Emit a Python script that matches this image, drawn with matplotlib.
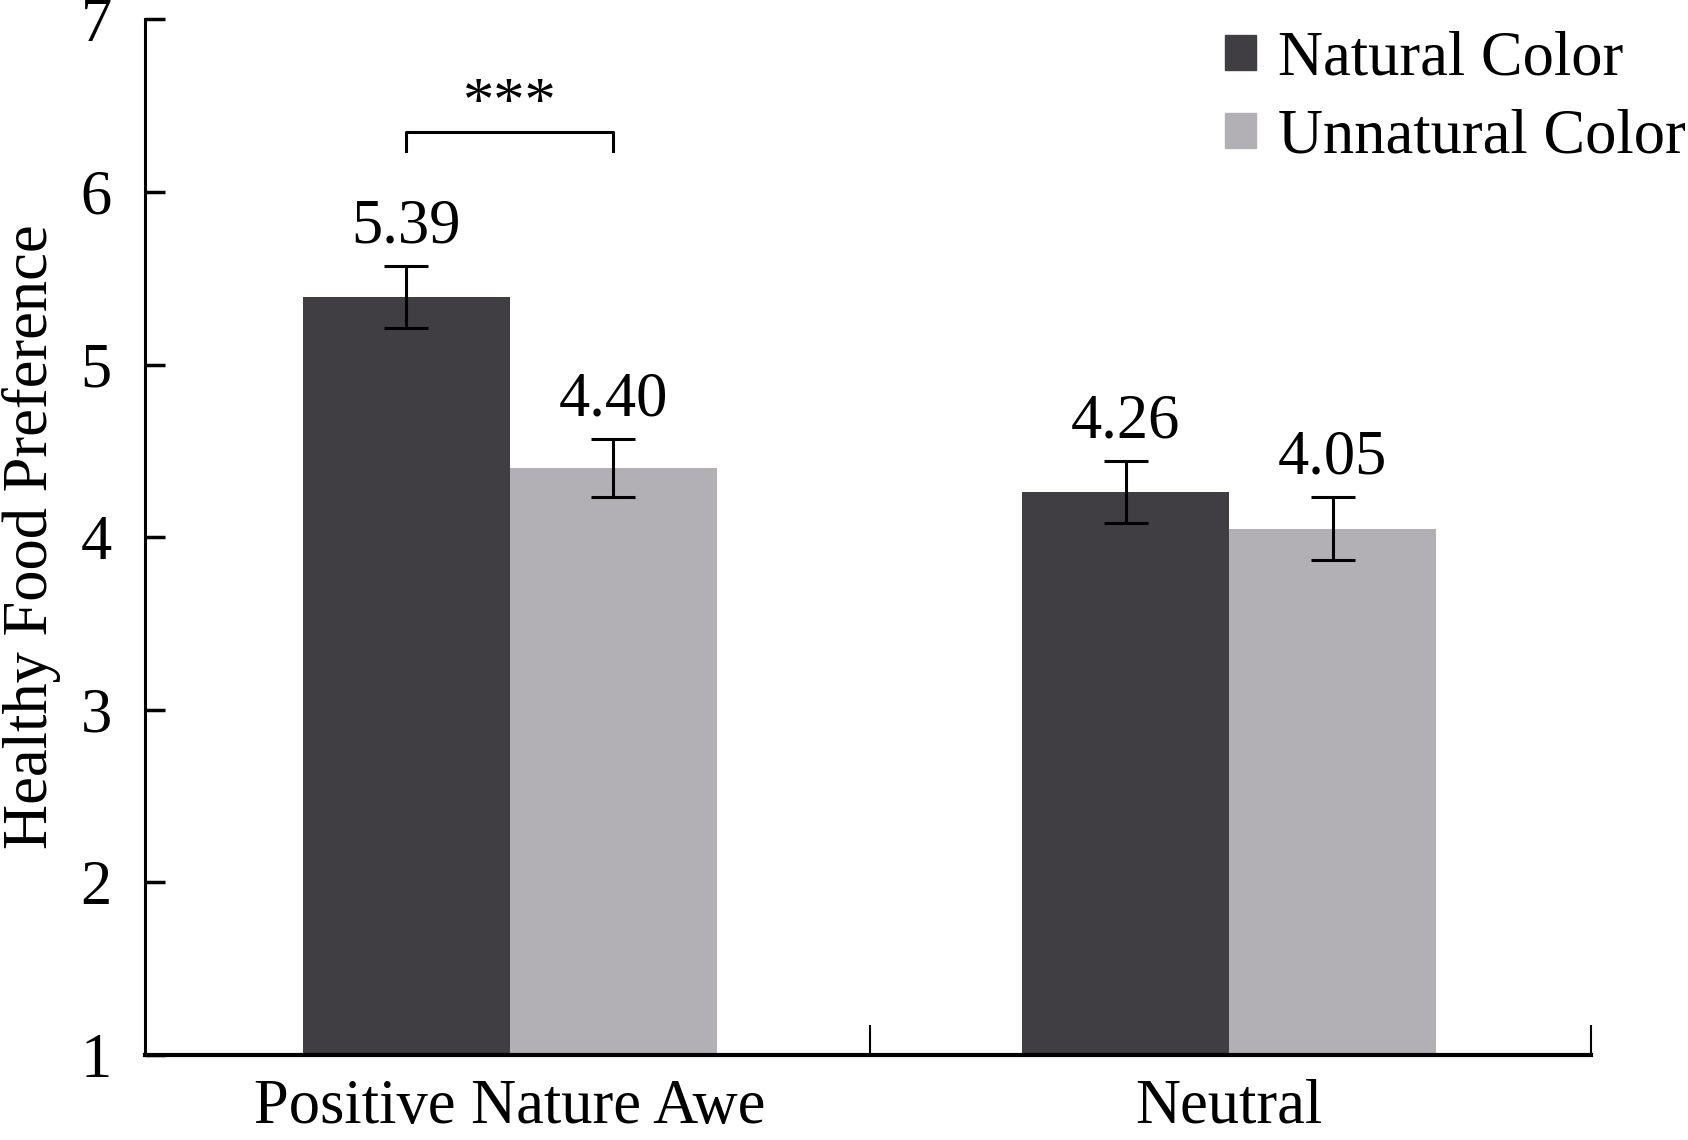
import matplotlib
matplotlib.use("Agg")
import matplotlib.pyplot as plt
import matplotlib.patches as patches
import numpy as np

categories = ["Positive Nature Awe", "Neutral"]
series_names = ["Natural Color", "Unnatural Color"]
natural_means = [5.39, 4.26]
unnatural_means = [4.40, 4.05]
natural_se = [0.18, 0.18]
unnatural_se = [0.17, 0.18]
yticks = [1, 2, 3, 4, 5, 6, 7]

plt.rcParams['font.family'] = ['Liberation Serif', 'DejaVu Serif']
dark = "#403e42"
light = "#b2b0b5"
fs = 45

fig = plt.figure(figsize=(16.88, 11.40), dpi=100)
ax = fig.add_axes([0.086, 0.0746, 0.8566, 0.9084])

x = np.arange(len(categories))
w = 0.2875
ax.bar(x - w / 2, natural_means, w, color=dark, label=series_names[0])
ax.bar(x + w / 2, unnatural_means, w, color=light, label=series_names[1])

ekw = dict(fmt='none', ecolor='black', elinewidth=2.2, capsize=15.5, capthick=2.2)
ax.errorbar(x - w / 2, natural_means, yerr=natural_se, **ekw)
ax.errorbar(x + w / 2, unnatural_means, yerr=unnatural_se, **ekw)

for xs, ms, ses in [(x - w / 2, natural_means, natural_se), (x + w / 2, unnatural_means, unnatural_se)]:
    for xi, m, s in zip(xs, ms, ses):
        ax.annotate("%.2f" % m, (xi, m + s), xytext=(0, 17), textcoords='offset points',
                    ha='center', va='baseline', fontsize=fs)

# significance bracket
ax.plot([x[0] - w / 2, x[0] - w / 2, x[0] + w / 2, x[0] + w / 2],
        [6.24, 6.35, 6.35, 6.24], color='black', lw=2.2)
ax.text(x[0], 6.41, "***", ha='center', va='baseline', fontsize=fs)

ax.set_xlim(-0.507, 1.503)
ax.set_ylim(1, 7)
ax.set_yticks(yticks)
ax.set_xticks(x)
ax.set_xticklabels(categories, fontsize=fs)
ax.set_xticks([0.5, 1.503], minor=True)
ax.tick_params(axis='x', which='major', length=0, pad=17)
ax.tick_params(axis='x', which='minor', direction='in', length=21.6, width=1.5)
ax.tick_params(axis='y', direction='in', length=14.4, width=2.5, pad=24, labelsize=fs)
for sp in ['top', 'right']:
    ax.spines[sp].set_visible(False)
ax.spines['left'].set_linewidth(2.2)
ax.spines['bottom'].set_linewidth(3)
ax.set_ylabel("Healthy Food Preference", fontsize=fs)
ax.yaxis.set_label_coords(-0.058, 0.5)

handles = [patches.Patch(color=dark), patches.Patch(color=light)]
ax.legend(handles, series_names, loc='upper left', bbox_to_anchor=(1225 / 1688, 0.973),
          bbox_transform=fig.transFigure, frameon=False, fontsize=fs, borderpad=0,
          borderaxespad=0, handlelength=0.5, handleheight=0.5, handletextpad=0.35,
          labelspacing=0.32)

fig.savefig("out.png", dpi=100)
